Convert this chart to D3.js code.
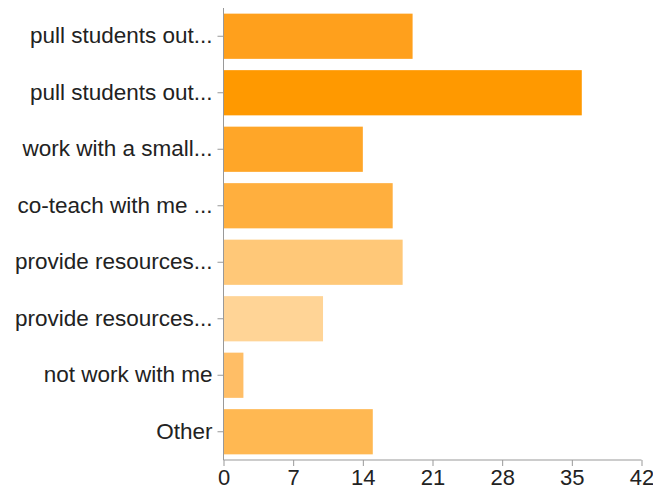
<!DOCTYPE html>
<html>
<head>
<meta charset="utf-8">
<script src="https://cdn.jsdelivr.net/npm/d3@7"></script>
<style>
  html, body { margin: 0; padding: 0; background: #fff; }
  svg { display: block; font-family: "Liberation Sans", Arial, Helvetica, sans-serif; }
</style>
</head>
<body>
<svg id="chart" width="653" height="493"></svg>
<script>
const categories = [
  "pull students out...",
  "pull students out...",
  "work with a small...",
  "co-teach with me ...",
  "provide resources...",
  "provide resources...",
  "not work with me",
  "Other"
];
const values = [19, 36, 14, 17, 18, 10, 2, 15];
const barColors = ["#FFA01C", "#FF9900", "#FFA628", "#FFAF3E", "#FFC878", "#FFD496", "#FFBE66", "#FFB852"];
const tickValues = [0, 7, 14, 21, 28, 35, 42];

(function () {
  const svg = d3.select("#chart");
  const mLeft = 223.5, mRight = 641.5, mTop = 8, mBottom = 460;

  const x = d3.scaleLinear().domain([0, 42]).range([mLeft, mRight]);
  const y = d3.scaleBand().domain(d3.range(categories.length)).range([mTop, mBottom]).paddingInner(0.2).paddingOuter(0.1);

  // bars
  svg.append("g").selectAll("rect")
    .data(values)
    .join("rect")
    .attr("x", x(0))
    .attr("y", (d, i) => y(i))
    .attr("width", d => x(d) - x(0))
    .attr("height", y.bandwidth())
    .attr("fill", (d, i) => barColors[i]);

  // y axis
  const yAxis = d3.axisLeft(y).tickSize(6).tickPadding(5).tickFormat(i => categories[i]);
  const gy = svg.append("g").attr("transform", `translate(${mLeft},0)`).call(yAxis);
  gy.select(".domain").attr("stroke", "#999").attr("d", `M0,${mTop}V${mBottom}`);
  gy.selectAll(".tick line").attr("stroke", "#999");
  gy.selectAll(".tick text").attr("fill", "#222").style("font-size", "22.5px");

  // x axis
  const xAxis = d3.axisBottom(x).tickValues(tickValues).tickSize(6).tickPadding(3).tickFormat(d3.format("d"));
  const gx = svg.append("g").attr("transform", `translate(0,${mBottom})`).call(xAxis);
  gx.select(".domain").attr("stroke", "#999").attr("d", `M${mLeft},0H${mRight}`);
  gx.selectAll(".tick line").attr("stroke", "#999");
  gx.selectAll(".tick text").attr("fill", "#222").style("font-size", "22px");
})();
</script>
</body>
</html>
